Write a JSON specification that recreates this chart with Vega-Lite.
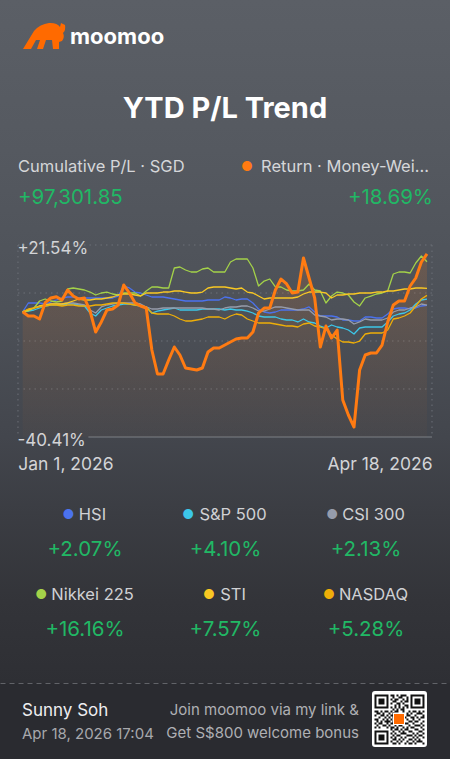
{
  "$schema": "https://vega.github.io/schema/vega-lite/v6.json",
  "padding": 0,
  "spacing": 0,
  "bounds": "flush",
  "background": "#2a2b30",
  "config": {"view": {"stroke": null}, "font": "Inter"},
  "vconcat": [
    {
      "width": 450,
      "height": 683,
      "view": {
        "stroke": null,
        "fill": {"gradient": "linear", "x1": 0, "y1": 0, "x2": 0, "y2": 1,
          "stops": [
            {"offset": 0, "color": "#5b5f66"},
            {"offset": 0.22, "color": "#555960"},
            {"offset": 0.45, "color": "#4d5158"},
            {"offset": 0.64, "color": "#43464d"},
            {"offset": 0.75, "color": "#3b3d43"},
            {"offset": 0.88, "color": "#333439"},
            {"offset": 1, "color": "#2e2f34"}
          ]}
      },
      "resolve": {"scale": {"x": "independent", "y": "independent"}},
      "layer": [
        {
          "layer": [
            {
              "data": {"values": [{"g": 21.54}, {"g": 6.05}, {"g": -9.44}, {"g": -24.92}]},
              "mark": {"type": "rule", "stroke": "#6c7078", "strokeDash": [1.5, 4], "strokeWidth": 1},
              "encoding": {
                "y": {"field": "g", "type": "quantitative", "scale": {"domain": [-40.41, 21.54], "range": [437, 245], "nice": false, "zero": false}, "axis": null},
                "x": {"datum": -0.84, "type": "quantitative", "scale": {"domain": [0, 72], "range": [22.7, 427], "nice": false, "zero": false}, "axis": null},
                "x2": {"datum": 72.89}
              }
            },
            {
              "data": {"values": [{"e": -0.84}, {"e": 72.89}]},
              "mark": {"type": "rule", "stroke": "#6c7078", "strokeDash": [1.5, 4], "strokeWidth": 1},
              "encoding": {
                "x": {"field": "e", "type": "quantitative", "axis": null},
                "y": {"datum": 21.54, "type": "quantitative", "axis": null},
                "y2": {"datum": -40.41}
              }
            },
            {
              "data": {"values": [{"e": 11.7}]},
              "mark": {"type": "rule", "stroke": "#7d8087", "strokeWidth": 1},
              "encoding": {
                "x": {"field": "e", "type": "quantitative", "axis": null},
                "x2": {"datum": 72.89},
                "y": {"datum": -40.41, "type": "quantitative", "axis": null}
              }
            }
          ]
        },
        {
          "data": {"values": [
            {"t":0,"Return":0,"HSI":0,"S&P 500":0,"CSI 300":0,"Nikkei 225":0,"STI":0,"NASDAQ":0},
            {"t":1,"Return":-1.37,"HSI":2.83,"S&P 500":0.24,"CSI 300":0.57,"Nikkei 225":0.24,"STI":0.57,"NASDAQ":0.89},
            {"t":2,"Return":-1.37,"HSI":2.83,"S&P 500":0.57,"CSI 300":1.21,"Nikkei 225":1.21,"STI":1.21,"NASDAQ":1.21},
            {"t":3,"Return":-2.34,"HSI":2.83,"S&P 500":1.21,"CSI 300":1.86,"Nikkei 225":3.47,"STI":1.86,"NASDAQ":1.54},
            {"t":4,"Return":2.92,"HSI":2.50,"S&P 500":1.86,"CSI 300":2.18,"Nikkei 225":4.12,"STI":2.18,"NASDAQ":1.86},
            {"t":5,"Return":4.44,"HSI":3.15,"S&P 500":2.18,"CSI 300":2.50,"Nikkei 225":3.47,"STI":2.50,"NASDAQ":2.18},
            {"t":6,"Return":4.86,"HSI":3.79,"S&P 500":2.18,"CSI 300":2.50,"Nikkei 225":3.15,"STI":2.50,"NASDAQ":2.18},
            {"t":7,"Return":3.79,"HSI":4.44,"S&P 500":2.18,"CSI 300":2.50,"Nikkei 225":3.47,"STI":2.50,"NASDAQ":1.86},
            {"t":8,"Return":7.02,"HSI":4.76,"S&P 500":2.50,"CSI 300":2.83,"Nikkei 225":7.34,"STI":2.83,"NASDAQ":2.18},
            {"t":9,"Return":5.08,"HSI":4.76,"S&P 500":2.50,"CSI 300":2.83,"Nikkei 225":7.67,"STI":3.47,"NASDAQ":2.18},
            {"t":10,"Return":4.12,"HSI":4.44,"S&P 500":2.18,"CSI 300":2.50,"Nikkei 225":7.34,"STI":4.12,"NASDAQ":1.86},
            {"t":11,"Return":4.44,"HSI":4.44,"S&P 500":1.86,"CSI 300":2.18,"Nikkei 225":7.02,"STI":3.79,"NASDAQ":1.86},
            {"t":12,"Return":0.24,"HSI":4.44,"S&P 500":-0.40,"CSI 300":0.57,"Nikkei 225":6.37,"STI":3.79,"NASDAQ":1.86},
            {"t":13,"Return":-6.53,"HSI":4.44,"S&P 500":-1.37,"CSI 300":-0.40,"Nikkei 225":5.41,"STI":4.12,"NASDAQ":2.18},
            {"t":14,"Return":-3.30,"HSI":4.44,"S&P 500":0.57,"CSI 300":1.54,"Nikkei 225":6.05,"STI":4.12,"NASDAQ":2.18},
            {"t":15,"Return":0.57,"HSI":4.44,"S&P 500":1.21,"CSI 300":2.18,"Nikkei 225":6.37,"STI":4.44,"NASDAQ":2.50},
            {"t":16,"Return":0.89,"HSI":4.44,"S&P 500":1.86,"CSI 300":2.50,"Nikkei 225":5.73,"STI":4.76,"NASDAQ":2.83},
            {"t":17,"Return":2.18,"HSI":5.08,"S&P 500":2.18,"CSI 300":2.83,"Nikkei 225":5.41,"STI":5.41,"NASDAQ":2.83},
            {"t":18,"Return":8.63,"HSI":8.31,"S&P 500":2.50,"CSI 300":2.83,"Nikkei 225":6.05,"STI":5.73,"NASDAQ":2.83},
            {"t":19,"Return":6.05,"HSI":7.67,"S&P 500":2.50,"CSI 300":2.83,"Nikkei 225":6.05,"STI":5.73,"NASDAQ":2.50},
            {"t":20,"Return":2.92,"HSI":6.37,"S&P 500":2.18,"CSI 300":2.83,"Nikkei 225":6.05,"STI":5.41,"NASDAQ":2.18},
            {"t":21,"Return":1.86,"HSI":6.05,"S&P 500":1.86,"CSI 300":2.50,"Nikkei 225":5.08,"STI":5.08,"NASDAQ":1.86},
            {"t":22,"Return":1.21,"HSI":5.41,"S&P 500":1.54,"CSI 300":1.54,"Nikkei 225":6.70,"STI":6.05,"NASDAQ":1.54},
            {"t":23,"Return":-12.34,"HSI":4.76,"S&P 500":-0.40,"CSI 300":0.89,"Nikkei 225":7.99,"STI":6.05,"NASDAQ":-0.40},
            {"t":24,"Return":-20.08,"HSI":4.76,"S&P 500":0.24,"CSI 300":0.89,"Nikkei 225":7.99,"STI":6.05,"NASDAQ":-0.72},
            {"t":25,"Return":-20.08,"HSI":4.76,"S&P 500":0.57,"CSI 300":1.21,"Nikkei 225":7.67,"STI":6.37,"NASDAQ":-0.72},
            {"t":26,"Return":-15.57,"HSI":4.44,"S&P 500":0.89,"CSI 300":1.21,"Nikkei 225":7.67,"STI":6.37,"NASDAQ":-0.72},
            {"t":27,"Return":-11.37,"HSI":4.12,"S&P 500":1.21,"CSI 300":1.21,"Nikkei 225":14.12,"STI":6.70,"NASDAQ":-1.37},
            {"t":28,"Return":-13.95,"HSI":3.79,"S&P 500":0.57,"CSI 300":1.21,"Nikkei 225":14.44,"STI":6.70,"NASDAQ":-2.34},
            {"t":29,"Return":-18.15,"HSI":3.47,"S&P 500":0.57,"CSI 300":1.21,"Nikkei 225":13.47,"STI":6.37,"NASDAQ":-2.98},
            {"t":30,"Return":-18.47,"HSI":3.47,"S&P 500":0.57,"CSI 300":1.21,"Nikkei 225":12.83,"STI":6.05,"NASDAQ":-2.98},
            {"t":31,"Return":-18.79,"HSI":3.47,"S&P 500":0.57,"CSI 300":1.21,"Nikkei 225":12.83,"STI":6.05,"NASDAQ":-2.66},
            {"t":32,"Return":-18.15,"HSI":3.47,"S&P 500":0.89,"CSI 300":1.21,"Nikkei 225":13.80,"STI":6.37,"NASDAQ":-2.34},
            {"t":33,"Return":-12.98,"HSI":3.79,"S&P 500":0.89,"CSI 300":0.89,"Nikkei 225":14.12,"STI":7.67,"NASDAQ":-1.69},
            {"t":34,"Return":-11.69,"HSI":3.79,"S&P 500":0.89,"CSI 300":0.89,"Nikkei 225":12.83,"STI":7.99,"NASDAQ":-1.69},
            {"t":35,"Return":-11.69,"HSI":3.79,"S&P 500":0.89,"CSI 300":0.57,"Nikkei 225":12.83,"STI":7.99,"NASDAQ":-1.69},
            {"t":36,"Return":-10.73,"HSI":4.76,"S&P 500":0.57,"CSI 300":1.21,"Nikkei 225":12.83,"STI":7.99,"NASDAQ":-2.34},
            {"t":37,"Return":-9.76,"HSI":4.44,"S&P 500":0.89,"CSI 300":1.54,"Nikkei 225":16.05,"STI":7.67,"NASDAQ":-1.37},
            {"t":38,"Return":-8.79,"HSI":3.79,"S&P 500":0.57,"CSI 300":1.54,"Nikkei 225":17.02,"STI":7.34,"NASDAQ":-0.72},
            {"t":39,"Return":-8.47,"HSI":4.12,"S&P 500":0.57,"CSI 300":1.86,"Nikkei 225":17.02,"STI":7.67,"NASDAQ":-1.05},
            {"t":40,"Return":-8.47,"HSI":4.12,"S&P 500":0.24,"CSI 300":1.86,"Nikkei 225":17.02,"STI":6.37,"NASDAQ":-2.34},
            {"t":41,"Return":-6.53,"HSI":2.83,"S&P 500":-0.40,"CSI 300":1.21,"Nikkei 225":14.12,"STI":6.05,"NASDAQ":-2.98},
            {"t":42,"Return":-0.40,"HSI":0.89,"S&P 500":-1.37,"CSI 300":0.24,"Nikkei 225":8.31,"STI":5.08,"NASDAQ":-3.63},
            {"t":43,"Return":1.21,"HSI":-0.08,"S&P 500":-1.69,"CSI 300":0.24,"Nikkei 225":9.92,"STI":4.12,"NASDAQ":-3.63},
            {"t":44,"Return":1.21,"HSI":-0.40,"S&P 500":-1.69,"CSI 300":0.89,"Nikkei 225":10.57,"STI":4.44,"NASDAQ":-3.63},
            {"t":45,"Return":7.02,"HSI":-0.08,"S&P 500":-1.69,"CSI 300":1.54,"Nikkei 225":7.99,"STI":4.44,"NASDAQ":-3.95},
            {"t":46,"Return":10.57,"HSI":0.57,"S&P 500":-2.34,"CSI 300":1.54,"Nikkei 225":7.99,"STI":4.44,"NASDAQ":-4.27},
            {"t":47,"Return":8.96,"HSI":0.57,"S&P 500":-2.66,"CSI 300":1.21,"Nikkei 225":7.02,"STI":4.44,"NASDAQ":-4.60},
            {"t":48,"Return":6.05,"HSI":0.57,"S&P 500":-2.66,"CSI 300":0.89,"Nikkei 225":6.70,"STI":4.44,"NASDAQ":-4.60},
            {"t":49,"Return":6.37,"HSI":0.57,"S&P 500":-3.30,"CSI 300":0.57,"Nikkei 225":6.70,"STI":4.76,"NASDAQ":-4.92},
            {"t":50,"Return":17.35,"HSI":0.89,"S&P 500":-2.34,"CSI 300":0.57,"Nikkei 225":7.02,"STI":5.73,"NASDAQ":-3.95},
            {"t":51,"Return":10.89,"HSI":1.54,"S&P 500":-3.30,"CSI 300":0.57,"Nikkei 225":8.96,"STI":6.37,"NASDAQ":-3.63},
            {"t":52,"Return":4.44,"HSI":-0.08,"S&P 500":-3.63,"CSI 300":-1.05,"Nikkei 225":7.02,"STI":6.37,"NASDAQ":-4.60},
            {"t":53,"Return":-11.37,"HSI":-1.37,"S&P 500":-4.60,"CSI 300":-1.37,"Nikkei 225":6.70,"STI":6.37,"NASDAQ":-4.92},
            {"t":54,"Return":-4.60,"HSI":-1.37,"S&P 500":-5.24,"CSI 300":-1.69,"Nikkei 225":2.83,"STI":6.05,"NASDAQ":-5.56},
            {"t":55,"Return":-8.47,"HSI":-1.37,"S&P 500":-4.27,"CSI 300":-2.66,"Nikkei 225":5.08,"STI":4.44,"NASDAQ":-7.50},
            {"t":56,"Return":-5.89,"HSI":-1.69,"S&P 500":-4.92,"CSI 300":-2.34,"Nikkei 225":6.37,"STI":5.41,"NASDAQ":-8.79},
            {"t":57,"Return":-28.47,"HSI":-2.66,"S&P 500":-5.24,"CSI 300":-2.34,"Nikkei 225":6.05,"STI":5.41,"NASDAQ":-9.76},
            {"t":58,"Return":-33.31,"HSI":-2.66,"S&P 500":-5.89,"CSI 300":-2.66,"Nikkei 225":5.41,"STI":5.73,"NASDAQ":-9.76},
            {"t":59,"Return":-37.18,"HSI":-2.98,"S&P 500":-7.18,"CSI 300":-3.95,"Nikkei 225":3.15,"STI":5.73,"NASDAQ":-10.08},
            {"t":60,"Return":-18.79,"HSI":-2.98,"S&P 500":-5.24,"CSI 300":-3.30,"Nikkei 225":1.86,"STI":6.05,"NASDAQ":-9.44},
            {"t":61,"Return":-13.95,"HSI":-1.69,"S&P 500":-4.92,"CSI 300":-2.34,"Nikkei 225":4.44,"STI":6.05,"NASDAQ":-7.18},
            {"t":62,"Return":-13.31,"HSI":-1.69,"S&P 500":-4.92,"CSI 300":-2.66,"Nikkei 225":5.08,"STI":6.05,"NASDAQ":-6.85},
            {"t":63,"Return":-13.31,"HSI":-2.01,"S&P 500":-4.92,"CSI 300":-2.66,"Nikkei 225":5.73,"STI":6.37,"NASDAQ":-6.85},
            {"t":64,"Return":-10.73,"HSI":-2.01,"S&P 500":-4.92,"CSI 300":-2.66,"Nikkei 225":6.05,"STI":6.37,"NASDAQ":-6.85},
            {"t":65,"Return":-3.30,"HSI":-0.72,"S&P 500":-3.30,"CSI 300":-2.01,"Nikkei 225":6.70,"STI":6.70,"NASDAQ":-5.89},
            {"t":66,"Return":2.18,"HSI":0.89,"S&P 500":-1.37,"CSI 300":-0.08,"Nikkei 225":12.18,"STI":6.70,"NASDAQ":-2.34},
            {"t":67,"Return":3.47,"HSI":1.21,"S&P 500":-0.72,"CSI 300":0.57,"Nikkei 225":12.83,"STI":7.02,"NASDAQ":-2.01},
            {"t":68,"Return":3.47,"HSI":1.21,"S&P 500":-0.40,"CSI 300":0.57,"Nikkei 225":12.83,"STI":7.34,"NASDAQ":-1.37},
            {"t":69,"Return":8.31,"HSI":0.89,"S&P 500":0.57,"CSI 300":1.21,"Nikkei 225":12.51,"STI":7.34,"NASDAQ":-0.40},
            {"t":70,"Return":10.89,"HSI":1.21,"S&P 500":2.50,"CSI 300":1.54,"Nikkei 225":15.73,"STI":7.67,"NASDAQ":1.86},
            {"t":71,"Return":16.05,"HSI":1.86,"S&P 500":3.79,"CSI 300":2.50,"Nikkei 225":17.99,"STI":7.67,"NASDAQ":4.12},
            {"t":72,"Return":18.69,"HSI":2.07,"S&P 500":4.10,"CSI 300":2.13,"Nikkei 225":16.16,"STI":7.57,"NASDAQ":5.28}
          ]},
          "transform": [{"fold": ["HSI", "S&P 500", "CSI 300", "Nikkei 225", "STI", "NASDAQ", "Return"], "as": ["series", "v"]}],
          "encoding": {
            "x": {"field": "t", "type": "quantitative",
              "scale": {"domain": [0, 72], "range": [22.7, 427], "nice": false, "zero": false},
              "axis": {"values": [0, 72], "labelExpr": "datum.value == 0 ? 'Jan 1, 2026' : 'Apr 18, 2026'", "offset": -246, "domain": false, "ticks": false, "tickSize": 0, "grid": false, "title": null, "labelFlush": true, "labelFlushOffset": 5, "labelPadding": 32, "labelBaseline": "alphabetic", "labelFont": "Inter", "labelFontSize": 17.5, "labelColor": "#d3d4d7", "labelOverlap": false}},
            "y": {"field": "v", "type": "quantitative",
              "scale": {"domain": [-40.41, 21.54], "range": [437, 245], "nice": false, "zero": false},
              "axis": {"values": [21.54, -40.41], "labelExpr": "(datum.value > 0 ? '+' : '-') + format(abs(datum.value), '.2f') + '%'", "domain": false, "ticks": false, "tickSize": 0, "grid": false, "title": null, "labelAlign": "left", "labelPadding": -17, "labelBaseline": "alphabetic", "labelOffset": 8.5, "labelFont": "Inter", "labelFontSize": 17, "labelColor": "#d3d4d7", "labelOverlap": false, "labelFlush": false, "minExtent": 0, "maxExtent": 0}}
          },
          "layer": [
            {
              "transform": [{"filter": "datum.series == 'Return'"}],
              "mark": {"type": "area", "color": {"gradient": "linear", "x1": 0, "y1": 0, "x2": 0, "y2": 1,
                "stops": [{"offset": 0, "color": "rgba(255,122,20,0.15)"}, {"offset": 1, "color": "rgba(255,122,20,0.02)"}]}},
              "encoding": {"y2": {"datum": -40.41}}
            },
            {
              "transform": [{"filter": "datum.series != 'Return'"}],
              "mark": {"type": "line", "strokeWidth": 1.3, "strokeJoin": "round"},
              "encoding": {"color": {"field": "series", "type": "nominal",
                "scale": {"domain": ["HSI", "S&P 500", "CSI 300", "Nikkei 225", "STI", "NASDAQ", "Return"], "range": ["#4b72ee", "#3cc6e8", "#969cab", "#a4d249", "#f9c823", "#eeae08", "#ff7b12"]}, "legend": null}}
            },
            {
              "transform": [{"filter": "datum.series == 'Return'"}],
              "mark": {"type": "line", "strokeWidth": 3, "strokeJoin": "round"},
              "encoding": {"color": {"field": "series", "type": "nominal",
                "scale": {"domain": ["HSI", "S&P 500", "CSI 300", "Nikkei 225", "STI", "NASDAQ", "Return"], "range": ["#4b72ee", "#3cc6e8", "#969cab", "#a4d249", "#f9c823", "#eeae08", "#ff7b12"]}, "legend": null}}
            }
          ]
        },
        {
          "data": {"values": [{"slot": "brand", "text": "moomoo"}, {"slot": "title", "text": "YTD P/L Trend"}]},
          "encoding": {
            "x": {"field": "slot", "type": "nominal", "scale": {"type": "point", "domain": ["brand", "title"], "range": [70, 225], "padding": 0}, "axis": null},
            "y": {"field": "slot", "type": "nominal", "scale": {"type": "point", "domain": ["brand", "title"], "range": [44, 118], "padding": 0}, "axis": null}
          },
          "layer": [
            {
              "transform": [{"filter": "datum.slot == 'brand'"}],
              "mark": {"type": "point", "filled": true, "opacity": 1, "size": 4, "color": "#ff6a00", "strokeWidth": 0,
                "shape": "M-47,5L-36,-13Q-30,-20,-21,-21Q-13,-21.5,-10,-17L-9,-21L-5,-19Q-4,-14,-7,-11Q-5,-7,-8,-3L-11,-2L-11,5L-17,5L-18,-4L-24,-4L-27,5L-33,5L-30,-4L-34,-4L-39,5Z"}
            },
            {
              "transform": [{"filter": "datum.slot == 'brand'"}],
              "mark": {"type": "text", "align": "left", "baseline": "alphabetic", "font": "Inter", "fontSize": 22, "fontWeight": "bold", "color": "#ffffff"},
              "encoding": {"text": {"field": "text"}}
            },
            {
              "transform": [{"filter": "datum.slot == 'title'"}],
              "mark": {"type": "text", "align": "center", "baseline": "alphabetic", "font": "Inter", "fontSize": 29, "fontWeight": "bold", "color": "#ffffff"},
              "encoding": {"text": {"field": "text"}}
            }
          ]
        },
        {
          "data": {"values": [
            {"side": "left", "kind": "label", "text": "Cumulative P/L · SGD"},
            {"side": "left", "kind": "value", "text": "+97,301.85"},
            {"side": "right", "kind": "label", "text": "Return · Money-Wei…"},
            {"side": "right", "kind": "value", "text": "+18.69%"}
          ]},
          "encoding": {
            "x": {"field": "side", "type": "nominal", "scale": {"type": "point", "domain": ["left", "right"], "range": [18, 432], "padding": 0}, "axis": null},
            "y": {"field": "kind", "type": "nominal", "scale": {"type": "point", "domain": ["label", "value"], "range": [172, 204], "padding": 0}, "axis": null}
          },
          "layer": [
            {
              "transform": [{"filter": "datum.side == 'left' && datum.kind == 'label'"}],
              "mark": {"type": "text", "align": "left", "baseline": "alphabetic", "font": "Inter", "fontSize": 16.5, "color": "#d5d6d9"},
              "encoding": {"text": {"field": "text"}}
            },
            {
              "transform": [{"filter": "datum.side == 'left' && datum.kind == 'value'"}],
              "mark": {"type": "text", "align": "left", "baseline": "alphabetic", "font": "Inter", "fontSize": 20.5, "color": "#21b865"},
              "encoding": {"text": {"field": "text"}}
            },
            {
              "transform": [{"filter": "datum.side == 'right' && datum.kind == 'label'"}],
              "mark": {"type": "text", "align": "center", "baseline": "alphabetic", "font": "Inter", "fontSize": 13, "color": "#ff7b12", "dx": -185, "dy": -1.5, "text": "●"}
            },
            {
              "transform": [{"filter": "datum.side == 'right' && datum.kind == 'label'"}],
              "mark": {"type": "text", "align": "right", "baseline": "alphabetic", "font": "Inter", "fontSize": 16.5, "color": "#d5d6d9", "dx": -3},
              "encoding": {"text": {"field": "text"}}
            },
            {
              "transform": [{"filter": "datum.side == 'right' && datum.kind == 'value'"}],
              "mark": {"type": "text", "align": "right", "baseline": "alphabetic", "font": "Inter", "fontSize": 20.5, "color": "#21b865", "dx": 1},
              "encoding": {"text": {"field": "text"}}
            }
          ]
        },
        {
          "data": {"values": [
            {"name": "HSI", "ret": 0.0207, "row": 1, "col": 1},
            {"name": "S&P 500", "ret": 0.0410, "row": 1, "col": 2},
            {"name": "CSI 300", "ret": 0.0213, "row": 1, "col": 3},
            {"name": "Nikkei 225", "ret": 0.1616, "row": 2, "col": 1},
            {"name": "STI", "ret": 0.0757, "row": 2, "col": 2},
            {"name": "NASDAQ", "ret": 0.0528, "row": 2, "col": 3}
          ]},
          "encoding": {
            "x": {"field": "col", "type": "ordinal", "scale": {"type": "point", "domain": [1, 2, 3], "range": [85, 366], "padding": 0}, "axis": null},
            "y": {"field": "row", "type": "ordinal", "scale": {"type": "point", "domain": [1, 2], "range": [520, 600], "padding": 0}, "axis": null}
          },
          "layer": [
            {
              "mark": {"type": "text", "align": "center", "baseline": "alphabetic", "font": "Inter", "fontSize": 13, "dy": -1.5, "text": "●",
                "dx": {"expr": "-3 - 8.25*(0.69*length(replace(datum.name, regexp('[^A-HJ-Z&]', 'g'), '')) + 0.61*length(replace(datum.name, regexp('[^0-9]', 'g'), '')) + 0.27*length(replace(datum.name, regexp('[^Ii ]', 'g'), '')) + 0.54*length(replace(datum.name, regexp('[^a-hj-z]', 'g'), '')))"}},
              "encoding": {"color": {"field": "name", "type": "nominal",
                "scale": {"domain": ["HSI", "S&P 500", "CSI 300", "Nikkei 225", "STI", "NASDAQ", "Return"], "range": ["#4b72ee", "#3cc6e8", "#969cab", "#a4d249", "#f9c823", "#eeae08", "#ff7b12"]}, "legend": null}}
            },
            {
              "mark": {"type": "text", "align": "center", "baseline": "alphabetic", "font": "Inter", "fontSize": 16.5, "color": "#d0d1d4", "dx": 7.5},
              "encoding": {"text": {"field": "name"}}
            },
            {
              "mark": {"type": "text", "align": "center", "baseline": "alphabetic", "font": "Inter", "fontSize": 20.5, "color": "#21b865", "dy": 35.5},
              "encoding": {"text": {"field": "ret", "type": "quantitative", "format": "+.2%"}}
            }
          ]
        }
      ]
    },
    {
      "width": 450,
      "height": 76,
      "view": {"fill": "#2a2b30", "stroke": null},
      "data": {"values": [
        {"side": "left", "line": 1, "text": "Sunny Soh"},
        {"side": "left", "line": 2, "text": "Apr 18, 2026 17:04"},
        {"side": "right", "line": 1, "text": "Join moomoo via my link &"},
        {"side": "right", "line": 2, "text": "Get S$800 welcome bonus"}
      ]},
      "encoding": {
        "x": {"field": "side", "type": "nominal", "scale": {"type": "point", "domain": ["left", "right"], "padding": 0.1677, "align": 0.1947},
          "axis": {"orient": "top", "domain": true, "domainColor": "#616368", "domainDash": [5, 4], "domainWidth": 1, "ticks": false, "labels": false, "title": null, "grid": false}},
        "y": {"field": "line", "type": "ordinal", "scale": {"type": "point", "domain": [1, 2], "range": [33, 56], "padding": 0}, "axis": null}
      },
      "layer": [
        {
          "transform": [{"filter": "datum.side == 'left' && datum.line == 1"}],
          "mark": {"type": "text", "align": "left", "baseline": "alphabetic", "font": "Inter", "fontSize": 17, "color": "#eeeef0"},
          "encoding": {"text": {"field": "text"}}
        },
        {
          "transform": [{"filter": "datum.side == 'left' && datum.line == 2"}],
          "mark": {"type": "text", "align": "left", "baseline": "alphabetic", "font": "Inter", "fontSize": 15, "color": "#a7a8ac"},
          "encoding": {"text": {"field": "text"}}
        },
        {
          "transform": [{"filter": "datum.side == 'right'"}],
          "mark": {"type": "text", "align": "right", "baseline": "alphabetic", "font": "Inter", "fontSize": 15, "color": "#afb0b4", "dy": -1.5},
          "encoding": {"text": {"field": "text"}}
        },
        {
          "transform": [{"filter": "datum.side == 'right' && datum.line == 1"}],
          "mark": {"type": "point", "filled": true, "opacity": 1, "size": 4, "color": "#ffffff", "strokeWidth": 0,
            "shape": "M16,-25H65Q68,-25,68,-22V28Q68,31,65,31H16Q13,31,13,28V-22Q13,-25,16,-25Z"}
        },
        {
          "transform": [{"filter": "datum.side == 'right' && datum.line == 1"}],
          "mark": {"type": "point", "filled": true, "opacity": 1, "size": 4, "color": "#111111", "strokeWidth": 0,
            "shape": "M15.5,-21.5h14v14h-14Z M17.5,-19.5v10h10v-10Z M19.5,-17.5h6v6h-6Z M51.5,-21.5h14v14h-14Z M53.5,-19.5v10h10v-10Z M55.5,-17.5h6v6h-6Z M15.5,14.5h14v14h-14Z M17.5,16.5v10h10v-10Z M19.5,18.5h6v6h-6Z M31.5,-21.5h4v2h-4Z M37.5,-21.5h2v2h-2Z M41.5,-21.5h6v2h-6Z M33.5,-19.5h2v2h-2Z M39.5,-19.5h4v2h-4Z M47.5,-19.5h2v2h-2Z M31.5,-17.5h2v2h-2Z M35.5,-17.5h4v2h-4Z M43.5,-17.5h2v2h-2Z M47.5,-17.5h2v2h-2Z M33.5,-15.5h4v2h-4Z M41.5,-15.5h2v2h-2Z M45.5,-15.5h4v2h-4Z M31.5,-13.5h2v2h-2Z M37.5,-13.5h4v2h-4Z M43.5,-13.5h2v2h-2Z M35.5,-11.5h2v2h-2Z M39.5,-11.5h2v2h-2Z M45.5,-11.5h4v2h-4Z M31.5,-9.5h2v2h-2Z M35.5,-9.5h2v2h-2Z M39.5,-9.5h2v2h-2Z M43.5,-9.5h2v2h-2Z M47.5,-9.5h2v2h-2Z M33.5,-7.5h2v2h-2Z M37.5,-7.5h2v2h-2Z M41.5,-7.5h4v2h-4Z M15.5,-5.5h4v2h-4Z M21.5,-5.5h2v2h-2Z M25.5,-5.5h4v2h-4Z M31.5,-5.5h2v2h-2Z M35.5,-5.5h4v2h-4Z M43.5,-5.5h2v2h-2Z M49.5,-5.5h2v2h-2Z M53.5,-5.5h4v2h-4Z M59.5,-5.5h2v2h-2Z M63.5,-5.5h2v2h-2Z M17.5,-3.5h4v2h-4Z M23.5,-3.5h2v2h-2Z M29.5,-3.5h2v2h-2Z M33.5,-3.5h2v2h-2Z M47.5,-3.5h2v2h-2Z M51.5,-3.5h2v2h-2Z M57.5,-3.5h6v2h-6Z M15.5,-1.5h2v2h-2Z M21.5,-1.5h4v2h-4Z M27.5,-1.5h2v2h-2Z M31.5,-1.5h4v2h-4Z M47.5,-1.5h4v2h-4Z M55.5,-1.5h2v2h-2Z M63.5,-1.5h2v2h-2Z M19.5,0.5h2v2h-2Z M25.5,0.5h2v2h-2Z M29.5,0.5h2v2h-2Z M33.5,0.5h2v2h-2Z M45.5,0.5h2v2h-2Z M51.5,0.5h4v2h-4Z M57.5,0.5h2v2h-2Z M61.5,0.5h4v2h-4Z M15.5,2.5h4v2h-4Z M23.5,2.5h2v2h-2Z M27.5,2.5h2v2h-2Z M31.5,2.5h2v2h-2Z M47.5,2.5h2v2h-2Z M53.5,2.5h2v2h-2Z M59.5,2.5h2v2h-2Z M17.5,4.5h2v2h-2Z M21.5,4.5h2v2h-2Z M25.5,4.5h6v2h-6Z M33.5,4.5h2v2h-2Z M49.5,4.5h4v2h-4Z M55.5,4.5h4v2h-4Z M63.5,4.5h2v2h-2Z M15.5,6.5h2v2h-2Z M19.5,6.5h4v2h-4Z M27.5,6.5h2v2h-2Z M31.5,6.5h4v2h-4Z M45.5,6.5h4v2h-4Z M53.5,6.5h2v2h-2Z M61.5,6.5h2v2h-2Z M17.5,8.5h2v2h-2Z M23.5,8.5h4v2h-4Z M29.5,8.5h2v2h-2Z M35.5,8.5h2v2h-2Z M39.5,8.5h4v2h-4Z M49.5,8.5h2v2h-2Z M55.5,8.5h6v2h-6Z M63.5,8.5h2v2h-2Z M15.5,10.5h2v2h-2Z M19.5,10.5h2v2h-2Z M27.5,10.5h2v2h-2Z M31.5,10.5h4v2h-4Z M37.5,10.5h2v2h-2Z M43.5,10.5h2v2h-2Z M47.5,10.5h2v2h-2Z M51.5,10.5h4v2h-4Z M61.5,10.5h2v2h-2Z M31.5,12.5h2v2h-2Z M35.5,12.5h4v2h-4Z M41.5,12.5h2v2h-2Z M45.5,12.5h4v2h-4Z M55.5,12.5h4v2h-4Z M63.5,12.5h2v2h-2Z M33.5,14.5h2v2h-2Z M39.5,14.5h2v2h-2Z M43.5,14.5h2v2h-2Z M49.5,14.5h4v2h-4Z M59.5,14.5h4v2h-4Z M31.5,16.5h2v2h-2Z M35.5,16.5h2v2h-2Z M41.5,16.5h6v2h-6Z M53.5,16.5h2v2h-2Z M57.5,16.5h2v2h-2Z M63.5,16.5h2v2h-2Z M33.5,18.5h2v2h-2Z M37.5,18.5h4v2h-4Z M47.5,18.5h6v2h-6Z M55.5,18.5h2v2h-2Z M59.5,18.5h4v2h-4Z M31.5,20.5h2v2h-2Z M35.5,20.5h2v2h-2Z M41.5,20.5h2v2h-2Z M45.5,20.5h2v2h-2Z M53.5,20.5h2v2h-2Z M57.5,20.5h2v2h-2Z M63.5,20.5h2v2h-2Z M33.5,22.5h4v2h-4Z M39.5,22.5h2v2h-2Z M43.5,22.5h2v2h-2Z M49.5,22.5h4v2h-4Z M55.5,22.5h2v2h-2Z M59.5,22.5h2v2h-2Z M31.5,24.5h2v2h-2Z M37.5,24.5h2v2h-2Z M41.5,24.5h2v2h-2Z M47.5,24.5h2v2h-2Z M53.5,24.5h2v2h-2Z M57.5,24.5h6v2h-6Z M33.5,26.5h4v2h-4Z M39.5,26.5h2v2h-2Z M45.5,26.5h2v2h-2Z M49.5,26.5h4v2h-4Z M55.5,26.5h2v2h-2Z M63.5,26.5h2v2h-2Z"}
        },
        {
          "transform": [{"filter": "datum.side == 'right' && datum.line == 1"}],
          "mark": {"type": "point", "filled": true, "opacity": 1, "size": 4, "color": "#ffffff", "strokeWidth": 0, "shape": "M34,-3h12v12h-12Z"}
        },
        {
          "transform": [{"filter": "datum.side == 'right' && datum.line == 1"}],
          "mark": {"type": "point", "filled": true, "opacity": 1, "size": 4, "color": "#ff6a00", "strokeWidth": 0, "shape": "M35,-2h10v10h-10Z"}
        }
      ]
    }
  ]
}
